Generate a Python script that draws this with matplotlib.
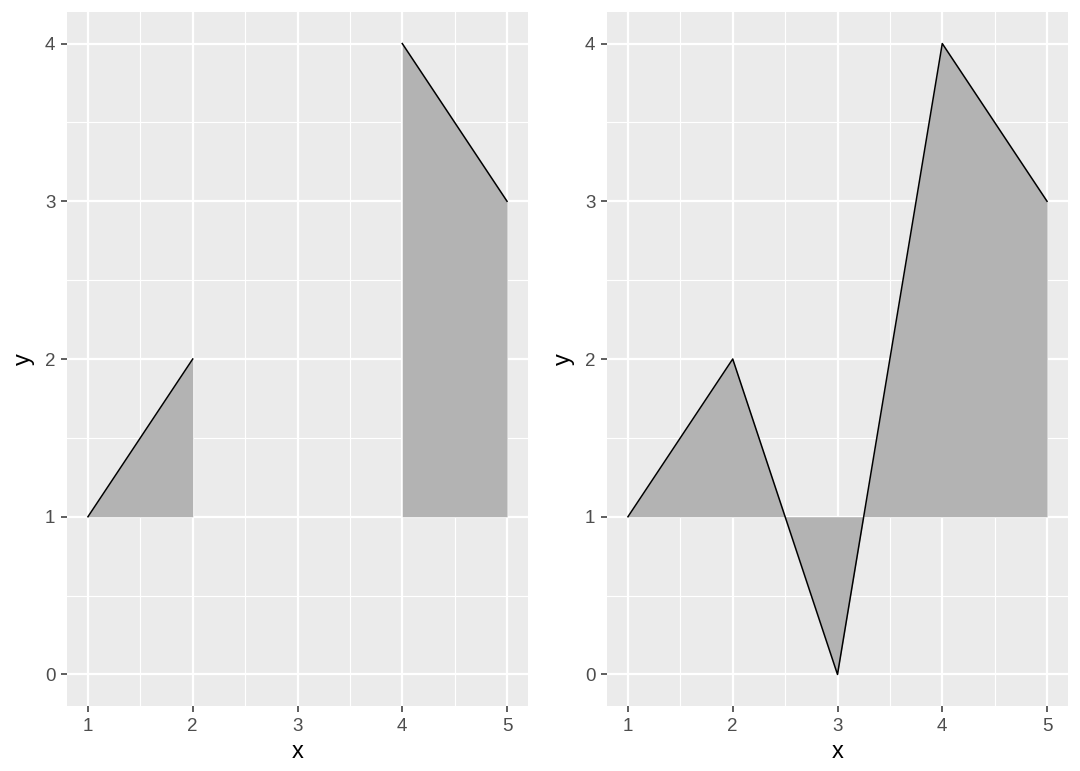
import numpy as np
from matplotlib import pyplot as plt

plt.rcParams['font.family'] = ['Liberation Sans', 'DejaVu Sans']

x = np.array([1, 2, 3, 4, 5])
y_left = np.array([1, 2, np.nan, 4, 3])
y_right = np.array([1, 2, 0, 4, 3])
base = 1
xticks = [1, 2, 3, 4, 5]
yticks = [0, 1, 2, 3, 4]

fig = plt.figure(figsize=(10.8, 7.71), dpi=100)
ax1 = fig.add_axes([67/1080, 1-706/771, 461/1080, 694/771])
ax2 = fig.add_axes([607/1080, 1-706/771, 461/1080, 694/771])

def style(ax):
    ax.set_facecolor('#EBEBEB')
    for s in ax.spines.values():
        s.set_visible(False)
    ax.set_xlim(0.8, 5.2)
    ax.set_ylim(-0.2, 4.2)
    ax.set_xticks(xticks)
    ax.set_yticks(yticks)
    ax.set_xticks([1.5, 2.5, 3.5, 4.5], minor=True)
    ax.set_yticks([0.5, 1.5, 2.5, 3.5], minor=True)
    ax.grid(which='major', color='white', lw=1.6)
    ax.grid(which='minor', color='white', lw=0.8)
    ax.set_axisbelow(True)
    ax.tick_params(which='major', length=4.3, width=1.1, color='#333333',
                   labelcolor='#4D4D4D', labelsize=13.5, pad=4)
    ax.tick_params(which='minor', length=0)
    ax.set_xlabel('x', fontsize=17, labelpad=5)
    ax.set_ylabel('y', fontsize=17, labelpad=7)

for ax, y in [(ax1, y_left), (ax2, y_right)]:
    style(ax)
    m = ~np.isnan(y)
    # split into contiguous runs, the line and ribbon break at NA
    runs = []
    cur = []
    for i in range(len(x)):
        if m[i]:
            cur.append(i)
        elif cur:
            runs.append(cur)
            cur = []
    if cur:
        runs.append(cur)
    for r in runs:
        ax.fill_between(x[r], base, y[r], color='#B3B3B3', lw=0, zorder=2)
        ax.plot(x[r], y[r], color='black', lw=1.1, zorder=3)

fig.savefig('out.png', dpi=100)
